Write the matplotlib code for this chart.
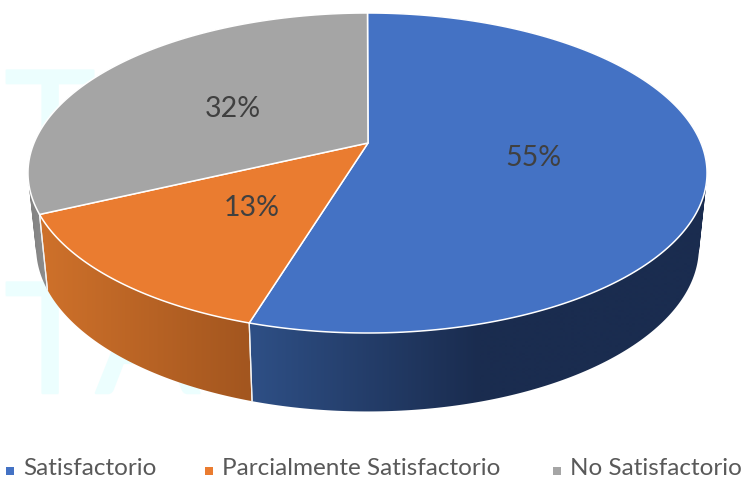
import numpy as np
import matplotlib
matplotlib.use("Agg")
import matplotlib.pyplot as plt
import matplotlib.patheffects as pe
from matplotlib.patches import Polygon, PathPatch
from matplotlib.path import Path
from matplotlib.colors import to_rgb, LinearSegmentedColormap

categories = ["Satisfactorio", "Parcialmente Satisfactorio", "No Satisfactorio"]
values = [54.7, 13.3, 32.0]

colors = ["#4472c4", "#ea7c30", "#a5a5a5"]
side_start = ["#1a2c4f", "#a3561f", "#8f8f8f"]
side_end = ["#2e4f85", "#cd702a", "#808080"]
gradient_x = [(480, 252), (249, 48), (48, 28)]
legend_x = [10, 209, 557]
label_pos = [(533, 158), (252, 208), (233, 109)]

plt.rcParams['font.family'] = ['Lato', 'DejaVu Sans']
fig = plt.figure(figsize=(7.43, 4.79), dpi=100)
ax = fig.add_axes([0, 0, 1, 1])

CX, C = 367.5, -0.1875


def rim(t, s, a, b):
    u, v = np.sin(t), -np.cos(t)
    den = 1 + C * v
    return np.column_stack([CX + s * u / den, (a * v + b) / den])


def top(t):
    return rim(t, 333.5, 127.56, 143.0)


def bottom(t):
    return rim(t, 325.5, 117.7, 216.6)


def wall_path(tp, bt):
    """One compound path of consistently oriented quads, so its union is filled."""
    verts, codes = [], []
    for j in range(len(tp) - 1):
        q = np.array([tp[j], tp[j + 1], bt[j + 1], bt[j]])
        x, y = q[:, 0], q[:, 1]
        area = np.sum(x * np.roll(y, -1) - np.roll(x, -1) * y)
        if area < 0:
            q = q[::-1]
        verts.extend(list(q) + [q[0]])
        codes.extend([Path.MOVETO, Path.LINETO, Path.LINETO, Path.LINETO, Path.CLOSEPOLY])
    return Path(np.array(verts), codes)


for y0 in (181, 393):
    ax.text(4.5, y0, "TA", fontsize=111, color="#ecfefe", va="baseline", ha="left",
            family="Lato", zorder=0.5,
            path_effects=[pe.withStroke(linewidth=1.8, foreground="#ecfefe")])

edges = np.cumsum([0] + values) / sum(values) * 2 * np.pi
apex = np.array([[368.0, 143.0]])

# side walls: a horizontal gradient image clipped to each wall
for i in range(3):
    t = np.linspace(edges[i], edges[i + 1], 300)
    tp, bt = top(t), bottom(t)
    xlo, xhi = gradient_x[i]
    cmap = LinearSegmentedColormap.from_list("side", [to_rgb(side_start[i]), to_rgb(side_end[i])])
    wall = PathPatch(wall_path(tp, bt), facecolor="none", edgecolor="none", transform=ax.transData)
    ax.add_patch(wall)
    xs = np.linspace(0, 743, 744)
    f = np.clip((xs - xlo) / (xhi - xlo), 0, 1).reshape(1, -1)
    im = ax.imshow(f, extent=(0, 743, 479, 0), cmap=cmap, vmin=0, vmax=1, aspect="auto",
                   interpolation="bilinear", zorder=2)
    im.set_clip_path(wall)
    for e in (edges[i], edges[i + 1]):
        pts = np.vstack([top(np.array([e])), bottom(np.array([e]))])
        if pts[0, 1] > 180:
            ax.plot(pts[:, 0], pts[:, 1], color="#f2f2f2", lw=0.9, zorder=3)

# top face
for i in range(3):
    t = np.linspace(edges[i], edges[i + 1], 300)
    ax.add_patch(Polygon(np.vstack([apex, top(t)]), closed=True, facecolor=colors[i],
                         edgecolor="white", linewidth=1.1, joinstyle="round", zorder=4))
    ax.text(*label_pos[i], f"{round(values[i])}%", fontsize=20.5, color="#404040",
            ha="center", va="center", zorder=5)

for i, name in enumerate(categories):
    ax.scatter([legend_x[i]], [471], marker="s", s=38, color=colors[i], linewidths=0, zorder=5)
    ax.text(legend_x[i] + 13, 475, name, fontsize=17.5, color="#595959", ha="left",
            va="baseline", zorder=5)

ax.set_xlim(0, 743)
ax.set_ylim(479, 0)
ax.axis("off")
fig.savefig("out.png", dpi=100)
